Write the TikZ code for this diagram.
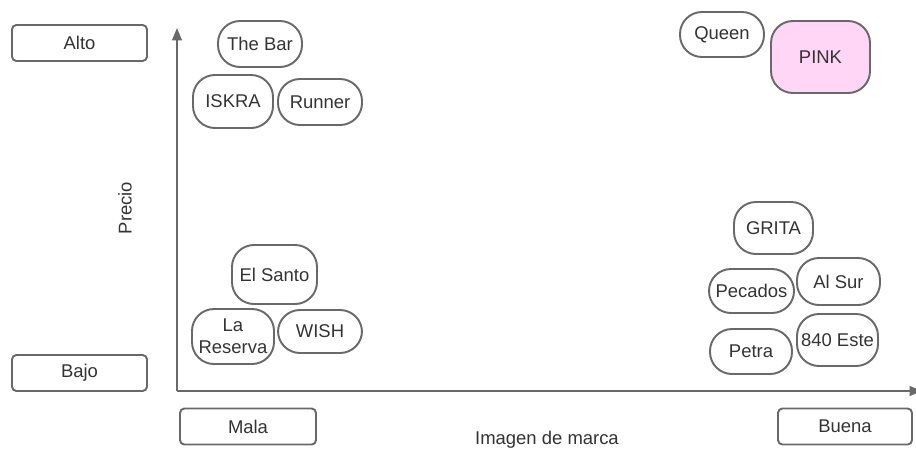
\documentclass[tikz,border=0pt]{standalone}
\usepackage{fontspec}
\setmainfont{Liberation Sans}
\usepackage{tikz}
\usetikzlibrary{arrows.meta}
\definecolor{linea}{HTML}{696969}
\definecolor{texto}{HTML}{333333}
\definecolor{rosa}{HTML}{FFD6F5}
\tikzset{every node/.style={font=\fontsize{10.5}{12.5}\selectfont, text=texto},
         marca/.style={draw=linea, line width=1.1pt, rounded corners=12.5pt,
                       inner sep=0pt, align=center},
         nivel/.style={draw=linea, line width=1.1pt, rounded corners=2.5pt,
                       minimum width=135*0.02cm, minimum height=36*0.02cm, inner sep=0pt},
         eje/.style={draw=linea, line width=1.1pt, -{Triangle[length=7pt,width=5.5pt]}}}

\begin{document}
\begin{tikzpicture}[x=0.02cm, y=-0.02cm]
    \useasboundingbox (0,0) rectangle (916,450);
    % ejes
    \coordinate (origen) at (177,391);
    \coordinate (arriba) at (177,28);
    \coordinate (derecha) at (922,391);
    \draw[eje] (origen) -- (arriba);
    \draw[eje] (origen) -- (derecha);
    \node[rotate=90] (precio) at (125,208) {Precio};
    \node (imagen) at (547,440) {Imagen de marca};
    % niveles
    \node[nivel] (alto) at (79.5,43) {Alto};
    \node[nivel] (bajo) at (79.5,373) {Bajo};
    \node[nivel, minimum width=136*0.02cm] (mala) at (248,426.5) {Mala};
    \node[nivel, minimum width=134*0.02cm] (buena) at (845,426.5) {Buena};
    % marcas
    \foreach \n/\x/\y/\w/\h/\t in {thebar/260/44/84/46/The Bar,
                                   iskra/233/101.5/80/53/ISKRA,
                                   runner/320/102/84/46/Runner,
                                   queen/722/34.5/84/45/Queen,
                                   elsanto/274.5/274.5/85/59/El Santo,
                                   lareserva/233/336.5/82/55/{La\\Reserva},
                                   wish/320/331.5/84/43/WISH,
                                   grita/773.5/228/79/52/GRITA,
                                   pecados/751.5/291/85/44/Pecados,
                                   alsur/838.5/281.5/83/47/Al Sur,
                                   petra/751/351.5/82/45/Petra,
                                   este/837.5/340/81/52/840 Este}
        \node[marca, minimum width=\w*0.02cm, minimum height=\h*0.02cm] (\n) at (\x,\y) {\t};
    \node[marca, fill=rosa, minimum width=99*0.02cm, minimum height=72*0.02cm] (pink) at (820.5,57) {PINK};
\end{tikzpicture}
\end{document}
